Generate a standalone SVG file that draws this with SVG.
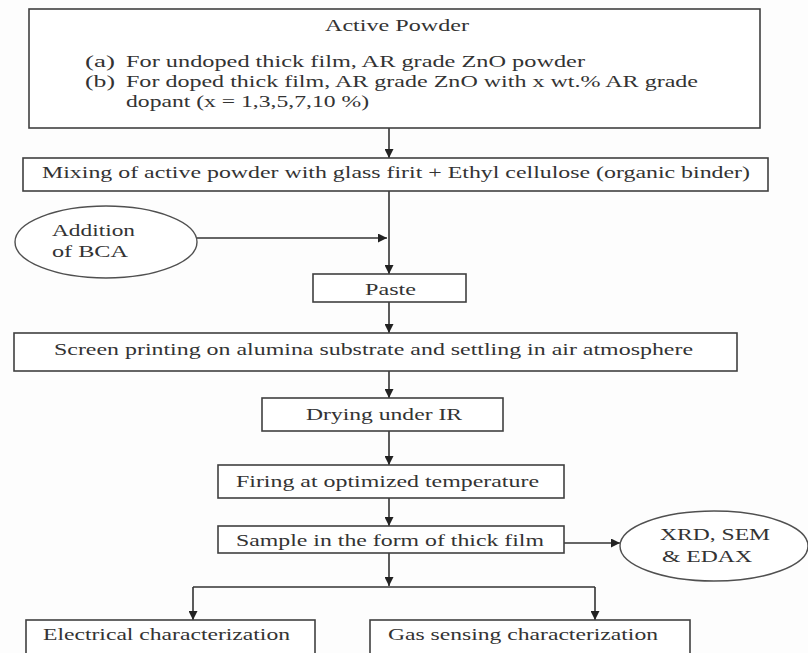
<svg xmlns="http://www.w3.org/2000/svg" width="808" height="653" viewBox="0 0 808 653">
  <style>
    .box { fill: #ffffff; stroke: #404040; stroke-width: 1.6; }
    .oval { fill: #ffffff; stroke: #505050; stroke-width: 1.4; }
    .lbl { font-family: "Liberation Serif", "Times New Roman", serif; font-size: 17px; fill: #333333; }
    .wire { fill: none; stroke: #333333; stroke-width: 1.6; }
  </style>
  <defs>
    <marker id="head" viewBox="0 0 10 10" refX="10" refY="5" markerWidth="9" markerHeight="9" markerUnits="userSpaceOnUse" orient="auto">
      <path d="M0,0 L10,5 L0,10 Z" fill="#222222"/>
    </marker>
  </defs>
  <rect width="808" height="653" fill="#fdfdfd"/>

  <!-- connectors -->
  <g id="connectors" class="wire">
    <path d="M389,128 V158" marker-end="url(#head)"/>
    <path d="M389,191 V274" marker-end="url(#head)"/>
    <path d="M197,238 H387" marker-end="url(#head)"/>
    <path d="M389,302 V333" marker-end="url(#head)"/>
    <path d="M389,371 V398" marker-end="url(#head)"/>
    <path d="M389,431 V465" marker-end="url(#head)"/>
    <path d="M389,498 V526" marker-end="url(#head)"/>
    <path d="M564,543 H620" marker-end="url(#head)"/>
    <path d="M389,553 V586" marker-end="url(#head)"/>
    <path d="M193,587 H595"/>
    <path d="M193,587 V620" marker-end="url(#head)"/>
    <path d="M595,587 V620" marker-end="url(#head)"/>
  </g>

  <g id="active-powder">
    <rect class="box" x="29" y="9" width="731" height="119"/>
    <text class="lbl" x="325" y="31" textLength="144" lengthAdjust="spacingAndGlyphs">Active Powder</text>
    <text class="lbl" x="85" y="67" textLength="30" lengthAdjust="spacingAndGlyphs">(a)</text>
    <text class="lbl" x="126" y="67" textLength="459" lengthAdjust="spacingAndGlyphs">For undoped thick film, AR grade ZnO powder</text>
    <text class="lbl" x="85" y="87" textLength="30" lengthAdjust="spacingAndGlyphs">(b)</text>
    <text class="lbl" x="126" y="87" textLength="572" lengthAdjust="spacingAndGlyphs">For doped thick film, AR grade ZnO with x wt.% AR grade</text>
    <text class="lbl" x="126" y="107" textLength="243" lengthAdjust="spacingAndGlyphs">dopant (x = 1,3,5,7,10 %)</text>
  </g>

  <g id="mixing">
    <rect class="box" x="23" y="158" width="745" height="33"/>
    <text class="lbl" x="42" y="178" textLength="708" lengthAdjust="spacingAndGlyphs">Mixing of active powder with glass firit + Ethyl cellulose (organic binder)</text>
  </g>

  <g id="bca">
    <ellipse class="oval" cx="106" cy="242" rx="91" ry="36"/>
    <text class="lbl" x="52" y="236" textLength="83" lengthAdjust="spacingAndGlyphs">Addition</text>
    <text class="lbl" x="52" y="257" textLength="76" lengthAdjust="spacingAndGlyphs">of BCA</text>
  </g>

  <g id="paste">
    <rect class="box" x="313" y="274" width="153" height="28"/>
    <text class="lbl" x="365" y="295" textLength="51" lengthAdjust="spacingAndGlyphs">Paste</text>
  </g>

  <g id="screen-printing">
    <rect class="box" x="14" y="333" width="723" height="38"/>
    <text class="lbl" x="54" y="355" textLength="639" lengthAdjust="spacingAndGlyphs">Screen printing on alumina substrate and settling in air atmosphere</text>
  </g>

  <g id="drying">
    <rect class="box" x="262" y="398" width="241" height="33"/>
    <text class="lbl" x="306" y="420" textLength="156" lengthAdjust="spacingAndGlyphs">Drying under IR</text>
  </g>

  <g id="firing">
    <rect class="box" x="218" y="465" width="346" height="33"/>
    <text class="lbl" x="236" y="487" textLength="303" lengthAdjust="spacingAndGlyphs">Firing at optimized temperature</text>
  </g>

  <g id="sample">
    <rect class="box" x="218" y="526" width="346" height="27"/>
    <text class="lbl" x="236" y="546" textLength="308" lengthAdjust="spacingAndGlyphs">Sample in the form of thick film</text>
  </g>

  <g id="xrd">
    <ellipse class="oval" cx="714" cy="546" rx="94" ry="35"/>
    <text class="lbl" x="660" y="540" textLength="110" lengthAdjust="spacingAndGlyphs">XRD, SEM</text>
    <text class="lbl" x="662" y="562" textLength="90" lengthAdjust="spacingAndGlyphs">&amp; EDAX</text>
  </g>

  <g id="electrical">
    <rect class="box" x="26" y="620" width="289" height="40"/>
    <text class="lbl" x="43" y="640" textLength="247" lengthAdjust="spacingAndGlyphs">Electrical characterization</text>
  </g>

  <g id="gas-sensing">
    <rect class="box" x="370" y="620" width="320" height="40"/>
    <text class="lbl" x="388" y="640" textLength="270" lengthAdjust="spacingAndGlyphs">Gas sensing characterization</text>
  </g>
</svg>
